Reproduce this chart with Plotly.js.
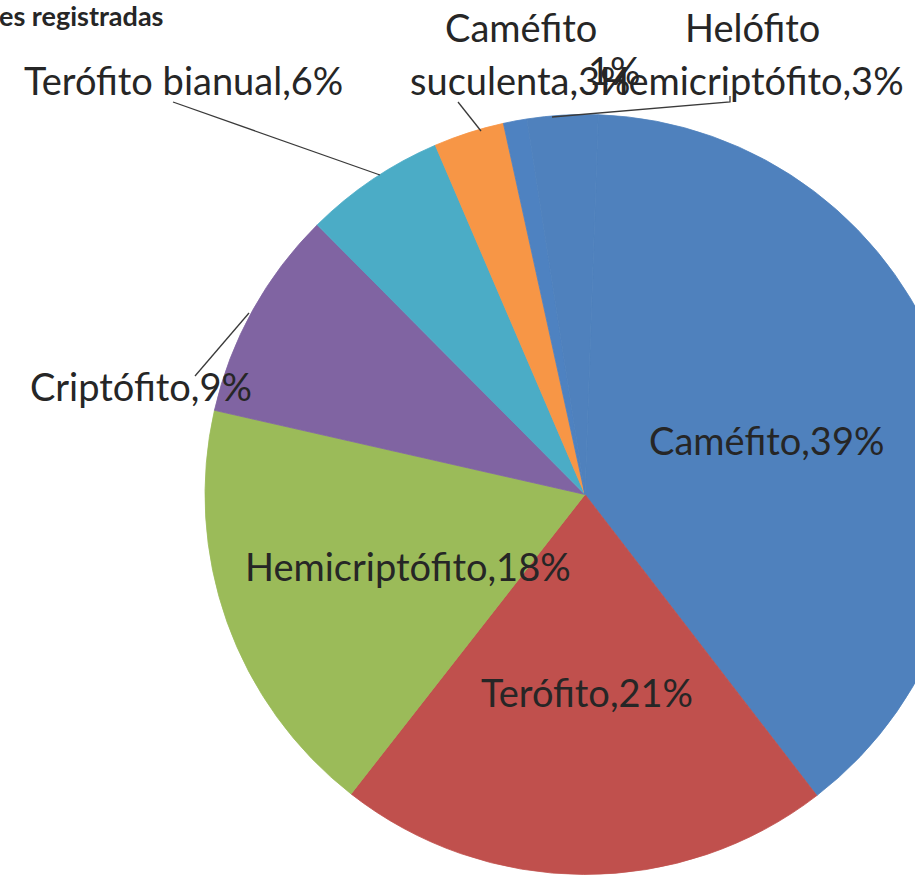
<!DOCTYPE html>
<html>
<head>
<meta charset="utf-8">
<script src="https://cdn.plot.ly/plotly-3.0.1.min.js"></script>
<style>
html,body{margin:0;padding:0;overflow:hidden;background:#fff;width:915px;height:879px;}
#chart{width:1000px;height:879px;}
</style>
</head>
<body>
<div id="chart"></div>
<script>
// ---- data ----
const categories = ['Caméfito', 'Terófito', 'Hemicriptófito', 'Criptófito', 'Terófito bianual', 'Caméfito suculenta', ' ', 'Helófito Hemicriptófito'];
const percentValues = [39, 21, 18, 9, 6, 3, 1, 3];
// label lines as shown on the chart (wrapped names)
const labelLines = [
  ['Caméfito,39%'],
  ['Terófito,21%'],
  ['Hemicriptófito,18%'],
  ['Criptófito,9%'],
  ['Terófito bianual,6%'],
  ['Caméfito', 'suculenta,3%'],
  ['1%'],
  ['Helófito', 'Hemicriptófito,3%']
];
const titleText = 'es registradas';

// ---- styling / layout ----
const colors = ['#4F81BD', '#C0504D', '#9BBB59', '#8064A2', '#4BACC6', '#F79646', '#4E82C1', '#4F81BD'];
const W = 1000, H = 879;
const px = x => x / W;
const py = y => 1 - y / H;

// label positions in pixels (per line)
const labelPos = [
  [[766, 440]],
  [[587, 692]],
  [[408, 566]],
  [[141, 386]],
  [[183, 80]],
  [[521, 27], [520, 80]],
  [[614, 70]],
  [[752, 27], [752, 80]]
];
const leaders = [
  [[173, 102], [380, 175]],
  [[458, 102], [481, 131]],
  [[730, 96], [730, 102], [552, 117]],
  [[195, 376], [249, 313]]
];

const font = 'Lato, "Open Sans", sans-serif';
const annotations = [];
labelLines.forEach((lines, i) => {
  lines.forEach((t, j) => {
    const p = labelPos[i][j];
    annotations.push({
      text: t, x: px(p[0]), y: py(p[1]), xref: 'paper', yref: 'paper',
      xanchor: 'center', yanchor: 'middle', showarrow: false,
      font: {family: font, size: 38, color: '#262626'}
    });
  });
});
annotations.push({
  text: '<b>' + titleText + '</b>', x: px(-3), y: py(16), xref: 'paper', yref: 'paper',
  xanchor: 'left', yanchor: 'middle', showarrow: false,
  font: {family: font, size: 27, color: '#262626'}
});

const shapes = leaders.map(pts => ({
  type: 'path', xref: 'paper', yref: 'paper',
  path: pts.map((p, k) => (k ? 'L' : 'M') + px(p[0]) + ',' + py(p[1])).join(' '),
  line: {color: '#3a3a3a', width: 1.3}
}));

const trace = {
  type: 'pie',
  labels: categories,
  values: percentValues,
  sort: false,
  direction: 'clockwise',
  rotation: 2,
  textinfo: 'none',
  hoverinfo: 'label+percent',
  marker: {colors: colors, line: {width: 0.8, color: colors}},
  domain: {x: [px(205), px(965)], y: [py(875), py(114)]},
  showlegend: false
};

const layout = {
  width: W, height: H,
  margin: {l: 0, r: 0, t: 0, b: 0},
  paper_bgcolor: '#ffffff',
  showlegend: false,
  annotations: annotations,
  shapes: shapes
};

Plotly.newPlot('chart', [trace], layout, {displayModeBar: false, staticPlot: true});
</script>
</body>
</html>
